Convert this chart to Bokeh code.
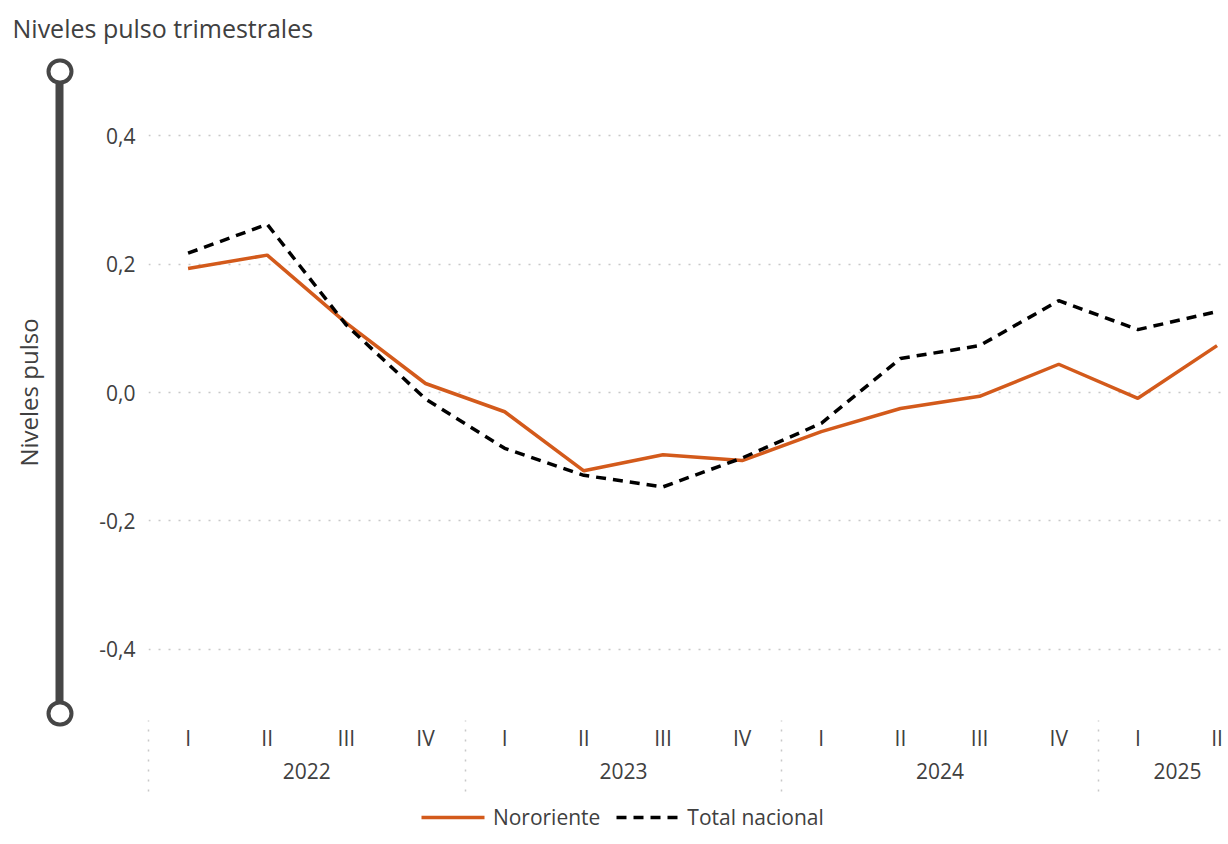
from bokeh.plotting import figure
from bokeh.models import Range1d, FixedTicker, LinearAxis, Grid
from bokeh.embed import file_html
from bokeh.resources import INLINE

# ---------------- data ----------------
title_text = "Niveles pulso trimestrales"
y_title = "Niveles pulso"
years = ["2022", "2023", "2024", "2025"]
quarters = ["I", "II", "III", "IV", "I", "II", "III", "IV",
            "I", "II", "III", "IV", "I", "II"]
quarter_year = ["2022"] * 4 + ["2023"] * 4 + ["2024"] * 4 + ["2025"] * 2
series_names = ["Nororiente", "Total nacional"]
nororiente = [0.193, 0.214, 0.108, 0.014, -0.030, -0.122, -0.097, -0.106,
              -0.061, -0.025, -0.006, 0.044, -0.009, 0.073]
total_nacional = [0.217, 0.262, 0.105, -0.010, -0.087, -0.129, -0.147, -0.102,
                  -0.048, 0.053, 0.073, 0.143, 0.098, 0.126]
y_ticks = [-0.4, -0.2, 0.0, 0.2, 0.4]
y_tick_labels = ["-0,4", "-0,2", "0,0", "0,2", "0,4"]
y_min, y_max = -0.5, 0.5

# ---------------- derived positions ----------------
x = list(range(len(quarters)))
year_centers = []
separators = []
for yr in years:
    idx = [i for i, q in enumerate(quarter_year) if q == yr]
    year_centers.append(sum(idx) / len(idx))
    separators.append(idx[0] - 0.5)

# ---------------- style / layout constants ----------------
FONT = "Open Sans"
TXT = "#404040"
ORANGE = "#D35A1B"
SLIDER = "#464646"
GRID = "#c8c8c8"
DASH = "10 7"
LW = 3.5
# legend key placement along the x scale (layout only)
LEG_LINE1 = (2.95, 3.75)
LEG_LINE2 = (5.41, 6.20)
LEG_TEXT = [4.53, 7.17]


def blank_axis(**kw):
    base = dict(ticker=FixedTicker(ticks=[]), axis_line_color=None,
                major_tick_out=0, major_tick_in=0, minor_tick_out=0, minor_tick_in=0,
                major_label_standoff=0, major_label_text_font_size="0px")
    base.update(kw)
    return LinearAxis(**base)


p = figure(frame_width=1082, frame_height=642, output_backend="svg",
           toolbar_location=None,
           x_range=Range1d(-0.5, 13.17), y_range=Range1d(y_min, y_max),
           x_axis_type=None, y_axis_type=None,
           min_border_left=138, min_border_right=0, min_border_top=62,
           min_border_bottom=0, outline_line_color=None)

p.title.text = title_text
p.title.align = "left"
p.title.offset = -136
p.title.text_font = FONT
p.title.text_font_size = "25px"
p.title.text_font_style = "normal"
p.title.text_color = TXT
p.title.standoff = 0
p.title.vertical_align = "bottom"
p.title.padding = dict(left=0, right=0, top=8, bottom=27)

# ---- left side: tick labels, slider bar with rings, axis title ----
yaxis = LinearAxis(ticker=FixedTicker(ticks=y_ticks),
                   major_label_overrides=dict(zip(y_ticks, y_tick_labels)),
                   axis_label=" ", axis_label_text_font_size="1px",
                   axis_label_standoff=33,
                   axis_line_color=None,
                   major_tick_out=0, major_tick_in=0,
                   minor_tick_out=0, minor_tick_in=0,
                   major_label_standoff=13,
                   major_label_text_font=FONT, major_label_text_font_size="21px",
                   major_label_text_color=TXT)
p.add_layout(yaxis, "left")
p.add_layout(Grid(dimension=1, ticker=yaxis.ticker, grid_line_color=GRID,
                  grid_line_dash="2 8", grid_line_width=1.5))

ends = {y_min: "", y_max: ""}
bar_axis = blank_axis(ticker=FixedTicker(ticks=[y_min, y_max]),
                      major_label_overrides=ends,
                      axis_line_color=SLIDER, axis_line_width=8,
                      major_tick_in=1, major_tick_line_color=SLIDER,
                      major_tick_line_width=26, major_tick_line_cap="round")
p.add_layout(bar_axis, "left")
ring_axis = blank_axis(ticker=FixedTicker(ticks=[y_min, y_max]),
                       major_label_overrides=ends,
                       major_tick_in=1, major_tick_line_color="white",
                       major_tick_line_width=18, major_tick_line_cap="round",
                       axis_label=y_title, axis_label_standoff=15,
                       axis_label_text_font=FONT, axis_label_text_font_size="24px",
                       axis_label_text_font_style="normal", axis_label_text_color=TXT)
p.add_layout(ring_axis, "left")
p.add_layout(blank_axis(axis_label=" ", axis_label_text_font_size="1px",
                        axis_label_standoff=4), "left")

# ---- bottom: quarters (+ dotted year separators), years ----
SEP_LEN = 78
qaxis = LinearAxis(ticker=FixedTicker(ticks=x, minor_ticks=separators),
                   major_label_overrides={i: q for i, q in zip(x, quarters)},
                   axis_line_color=None, major_tick_out=0, major_tick_in=0,
                   minor_tick_out=SEP_LEN, minor_tick_in=-7,
                   minor_tick_line_color=GRID, minor_tick_line_dash="2 8",
                   minor_tick_line_width=1.5,
                   major_label_standoff=10 - SEP_LEN,
                   major_label_text_font=FONT, major_label_text_font_size="21px",
                   major_label_text_color=TXT)
p.add_layout(qaxis, "below")

yrs_axis = LinearAxis(ticker=FixedTicker(ticks=year_centers),
                      major_label_overrides=dict(zip(year_centers, years)),
                      axis_line_color=None, major_tick_out=0, major_tick_in=0,
                      minor_tick_out=0, minor_tick_in=0,
                      major_label_standoff=8,
                      major_label_text_font=FONT, major_label_text_font_size="21px",
                      major_label_text_color=TXT,
                      axis_label=" ", axis_label_text_font_size="1px",
                      axis_label_standoff=32)
p.add_layout(yrs_axis, "below")

# ---- series ----
r1 = p.line(x, nororiente, line_color=ORANGE, line_width=LW)
r2 = p.line(x, total_nacional, line_color="black", line_width=LW, line_dash=DASH)

# ---- legend row (keys drawn as bounded axis lines, labels as tick labels) ----
p.add_layout(blank_axis(bounds=LEG_LINE1, axis_line_color=ORANGE,
                        axis_line_width=LW), "below")
p.add_layout(blank_axis(bounds=LEG_LINE2, axis_line_color="black",
                        axis_line_width=LW, axis_line_dash=DASH), "below")
p.add_layout(LinearAxis(ticker=FixedTicker(ticks=LEG_TEXT),
                        major_label_overrides=dict(zip(LEG_TEXT, series_names)),
                        axis_line_color=None, major_tick_out=0, major_tick_in=0,
                        minor_tick_out=0, minor_tick_in=0,
                        major_label_standoff=-15,
                        major_label_text_font=FONT, major_label_text_font_size="21px",
                        major_label_text_color=TXT), "below")

open("out.html", "w").write(file_html(p, INLINE))
